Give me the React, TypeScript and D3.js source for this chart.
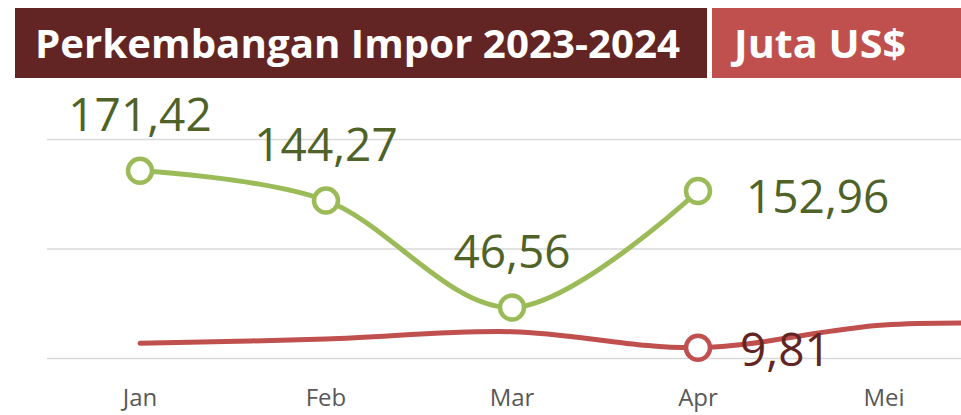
import React from "react"
import * as d3 from "d3"

const months = ["Jan", "Feb", "Mar", "Apr", "Mei", "Jun"]
const impor2024 = [171.42, 144.27, 46.56, 152.96]
const impor2023 = [13.9, 17.8, 24.5, 9.81, 30.6, 31.2]
const gridTicks = [0, 100, 200]
const titleText = "Perkembangan Impor 2023-2024"
const unitText = "Juta US$"

const fmt = (v: number) => v.toFixed(2).replace(".", ",")

const W = 961
const H = 415

function App() {
    const x = d3.scalePoint<string>().domain(months).range([140, 140 + 5 * 186])
    const y = d3.scaleLinear().domain([0, 200]).range([358.5, 139.5])

    const line = d3.line<number>()
        .x((_, i) => x(months[i]) as number)
        .y((d) => y(d))
        .curve(d3.curveCardinal.tension(0))

    const gridLeft = 47

    // only the last point gets a label in each series
    const greenLast = impor2024.length - 1

    return (
        <svg width={W} height={H} style={{ position: "absolute", left: 0, top: 0 }}
            fontFamily="'Open Sans', sans-serif">
            <rect x={0} y={0} width={W} height={H} fill="#ffffff" />
            {/* header */}
            <rect x={15} y={8} width={692} height={70} fill="#632523" />
            <rect x={712} y={8} width={W - 712} height={70} fill="#C0504D" />
            <text x={35} y={58} fill="#ffffff" fontWeight={700} fontSize={39}
                textLength={645} lengthAdjust="spacingAndGlyphs">{titleText}</text>
            <text x={820} y={58} fill="#ffffff" fontWeight={700} fontSize={39}
                textAnchor="middle" textLength={172} lengthAdjust="spacingAndGlyphs">{unitText}</text>

            {/* gridlines */}
            {gridTicks.map((t) => (
                <line key={t} x1={gridLeft} x2={W} y1={y(t)} y2={y(t)} stroke="#d9d9d9" strokeWidth={1.5} />
            ))}

            {/* x axis labels */}
            {months.slice(0, 5).map((m) => (
                <text key={m} x={x(m)} y={406} textAnchor="middle" fontSize={24} fill="#595959">{m}</text>
            ))}

            {/* 2023 series */}
            <path d={line(impor2023) || ""} fill="none" stroke="#C0504D" strokeWidth={5} strokeLinecap="round" />
            <circle cx={x(months[3])} cy={y(impor2023[3])} r={12} fill="#ffffff" stroke="#C0504D" strokeWidth={4.5} />
            <text x={(x(months[3]) as number) + 42} y={366} fontSize={46} fill="#632523">{fmt(impor2023[3])}</text>

            {/* 2024 series */}
            <path d={line(impor2024) || ""} fill="none" stroke="#9BBB59" strokeWidth={5} strokeLinecap="round" />
            {impor2024.map((v, i) => (
                <circle key={i} cx={x(months[i])} cy={y(v)} r={12} fill="#ffffff" stroke="#9BBB59" strokeWidth={4.5} />
            ))}
            {impor2024.map((v, i) => i == greenLast ? (
                <text key={i} x={(x(months[i]) as number) + 48} y={y(v) + 22} fontSize={46} fill="#4F6228">{fmt(v)}</text>
            ) : (
                <text key={i} x={x(months[i])} y={y(v) - 40} textAnchor="middle" fontSize={46} fill="#4F6228">{fmt(v)}</text>
            ))}
        </svg>
    )
}

export default App
